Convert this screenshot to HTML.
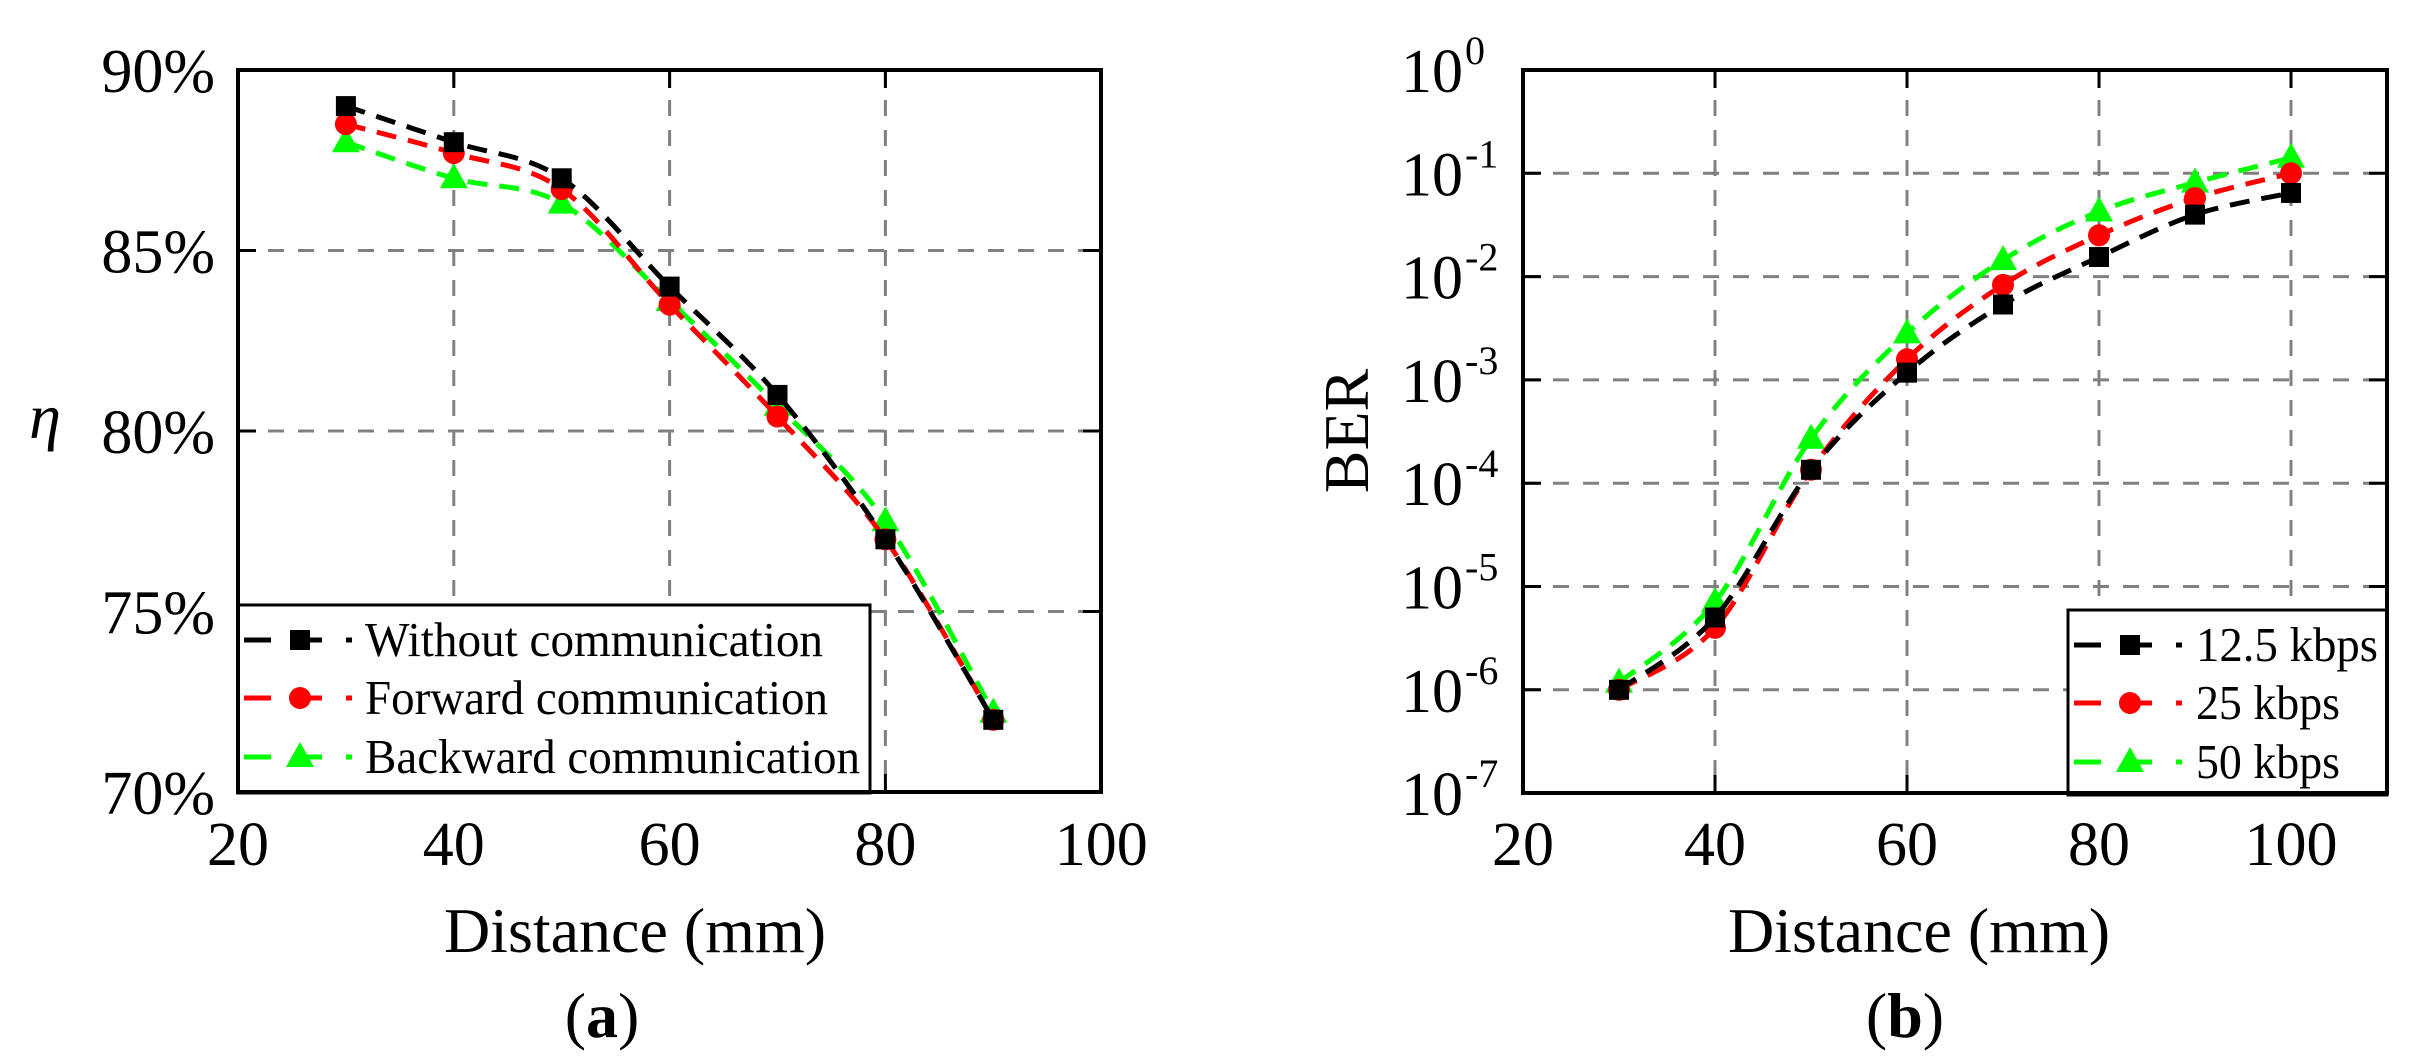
<!DOCTYPE html>
<html><head><meta charset="utf-8"><style>
html,body{margin:0;padding:0;background:#fff;}
svg{display:block;}
text{font-family:"Liberation Serif",serif;fill:#000;}
</style></head><body>
<svg id="s" width="2430" height="1062" viewBox="0 0 2430 1062" xmlns="http://www.w3.org/2000/svg">
<rect width="2430" height="1062" fill="#fff"/>
<g id="g"></g>
</svg>
<script>
const NS="http://www.w3.org/2000/svg";
const G=document.getElementById('g');
function el(t,a,txt){const e=document.createElementNS(NS,t);for(const k in a)e.setAttribute(k,a[k]);if(txt!==undefined)e.textContent=txt;G.appendChild(e);return e;}
function spline(pts){let d=`M${pts[0][0]},${pts[0][1]}`;for(let i=0;i<pts.length-1;i++){const p0=pts[i-1]||pts[i],p1=pts[i],p2=pts[i+1],p3=pts[i+2]||p2;const c1=[p1[0]+(p2[0]-p0[0])/6,p1[1]+(p2[1]-p0[1])/6],c2=[p2[0]-(p3[0]-p1[0])/6,p2[1]-(p3[1]-p1[1])/6];d+=` C${c1[0]},${c1[1]} ${c2[0]},${c2[1]} ${p2[0]},${p2[1]}`;}return d;}
function marker(type,x,y,c){
 if(type==='s')el('rect',{x:x-10,y:y-10,width:20,height:20,fill:c});
 else if(type==='c')el('circle',{cx:x,cy:y,r:11,fill:c});
 else el('polygon',{points:`${x},${y-15} ${x-14},${y+10} ${x+14},${y+10}`,fill:c});
}
const cols=['#000','#f00','#0f0'],mk=['s','c','t'];
function grid(L,R,T,B,xs,ys){
 xs.forEach(x=>el('line',{x1:x,y1:T,x2:x,y2:B,stroke:'#808080','stroke-width':3,'stroke-dasharray':'16 14'}));
 ys.forEach(y=>el('line',{x1:L,y1:y,x2:R,y2:y,stroke:'#808080','stroke-width':3,'stroke-dasharray':'16 14'}));
 xs.forEach(x=>{el('line',{x1:x,y1:T,x2:x,y2:T+18,stroke:'#000','stroke-width':3});el('line',{x1:x,y1:B,x2:x,y2:B-18,stroke:'#000','stroke-width':3});});
 ys.forEach(y=>{el('line',{x1:L,y1:y,x2:L+18,y2:y,stroke:'#000','stroke-width':3});el('line',{x1:R,y1:y,x2:R-18,y2:y,stroke:'#000','stroke-width':3});});
}
function series(pts,i){
 el('path',{d:spline(pts),fill:'none',stroke:cols[i],'stroke-width':5,'stroke-dasharray':'20 12'});
 pts.forEach(p=>marker(mk[i],p[0],p[1],cols[i]));
}
function legend(x0,y0,x1,y1,rows,names,tx,fs,lens){
 el('rect',{x:x0,y:y0,width:x1-x0,height:y1-y0,fill:'#fff',stroke:'#000','stroke-width':3});
 rows.forEach((y,i)=>{
  el('line',{x1:x0+6,y1:y,x2:x0+33,y2:y,stroke:cols[i],'stroke-width':5});
  el('line',{x1:x0+62,y1:y,x2:x0+84,y2:y,stroke:cols[i],'stroke-width':5});
  el('line',{x1:x0+108,y1:y,x2:x0+114,y2:y,stroke:cols[i],'stroke-width':5});
  marker(mk[i],x0+62,y,cols[i]);
  el('text',{x:tx,y:y+16,'font-size':fs,textLength:lens[i],lengthAdjust:'spacingAndGlyphs'},names[i]);
 });
}
// ---------- Left plot ----------
{const L=238,R=1101,T=70,B=792;
 const X=v=>L+(v-20)*10.79, Y=v=>T+(90-v)*36.1;
 grid(L,R,T,B,[40,60,80].map(X),[85,80,75].map(Y));
 const xs=[30,40,50,60,70,80,90];
 const data=[[89,88,87,84,81,77,72],[88.5,87.7,86.7,83.5,80.4,77,72],[88,87,86.3,83.6,80.7,77.5,72.2]];
 [2,1,0].forEach(i=>series(xs.map((x,k)=>[X(x),Y(data[i][k])]),i));
 legend(238,605,870,793,[640,698,757],['Without communication','Forward communication','Backward communication'],365,49,[458,463,495]);
 el('rect',{x:L,y:T,width:R-L,height:B-T,fill:'none',stroke:'#000','stroke-width':4});
 [90,85,80,75,70].forEach(v=>el('text',{x:215,y:Y(v)+22,'font-size':62,'text-anchor':'end'},v+'%'));
 [20,40,60,80,100].forEach(v=>el('text',{x:X(v),y:865,'font-size':62,'text-anchor':'middle'},v));
 el('text',{x:635,y:952,'font-size':64,'text-anchor':'middle'},'Distance (mm)');
 el('text',{x:45,y:438,'font-size':64,'font-style':'italic','text-anchor':'middle'},'η');
 const a=el('text',{x:602,y:1037,'font-size':64,'text-anchor':'middle'});a.innerHTML='(<tspan font-weight="bold">a</tspan>)';
}
// ---------- Right plot ----------
{const L=1523,R=2387,T=70,B=793;
 const X=v=>L+(v-20)*9.6, Y=e=>T-e*103.3;
 grid(L,R,T,B,[40,60,80,100].map(X),[-1,-2,-3,-4,-5,-6].map(Y));
 const xs=[30,40,50,60,70,80,90,100];
 const data=[[-6,-5.3,-3.87,-2.93,-2.27,-1.81,-1.40,-1.19],[-6,-5.4,-3.87,-2.8,-2.08,-1.60,-1.24,-1.0],[-5.93,-5.15,-3.57,-2.55,-1.84,-1.37,-1.09,-0.85]];
 [2,1,0].forEach(i=>series(xs.map((x,k)=>[X(x),Y(data[i][k])]),i));
 legend(2068,610,2387,795,[645,703,762],['12.5 kbps','25 kbps','50 kbps'],2196,49,[182,144,144]);
 el('rect',{x:L,y:T,width:R-L,height:B-T,fill:'none',stroke:'#000','stroke-width':4});
 for(let e=0;e>=-7;e--){el('text',{x:1463,y:Y(e)+22,'font-size':62,'text-anchor':'end'},'10');
  el('text',{x:1465,y:Y(e)-6,'font-size':40},e===0?'0':'-'+(-e));}
 [20,40,60,80,100].forEach(v=>el('text',{x:X(v),y:865,'font-size':62,'text-anchor':'middle'},v));
 el('text',{x:1919,y:952,'font-size':64,'text-anchor':'middle'},'Distance (mm)');
 el('text',{x:0,y:0,'font-size':64,'text-anchor':'middle',transform:'translate(1368,431) rotate(-90)'},'BER');
 const b=el('text',{x:1905,y:1037,'font-size':64,'text-anchor':'middle'});b.innerHTML='(<tspan font-weight="bold">b</tspan>)';
}
</script>
</body></html>
